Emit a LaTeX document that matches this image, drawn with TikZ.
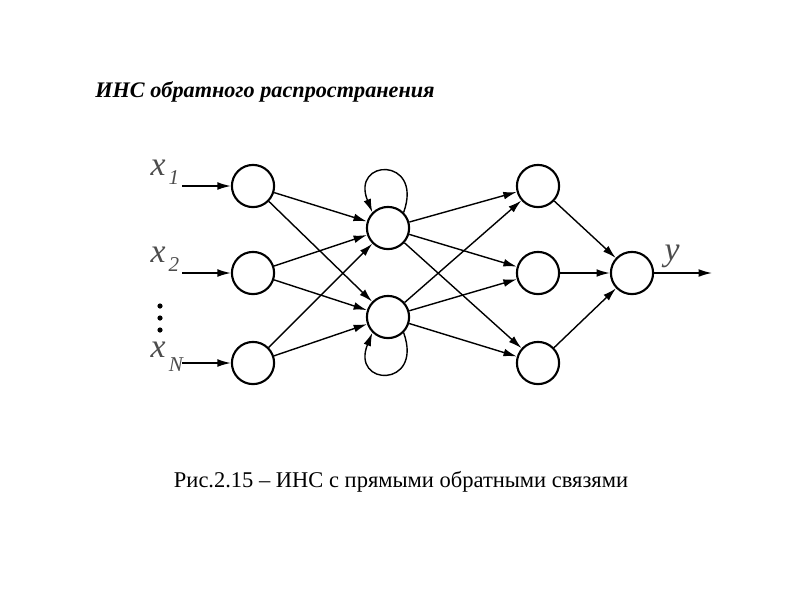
\documentclass[tikz,border=0pt]{standalone}
\usepackage{fontspec}
\setmainfont{Liberation Serif}
\usetikzlibrary{arrows.meta}

\begin{document}
\begin{tikzpicture}[x=0.025cm,y=-0.025cm,>={Latex[length=9.5pt,width=5.5pt]},line width=1pt]
\tikzset{neuron/.style={draw,circle,minimum size=30pt,inner sep=0pt,line width=1.5pt},
  lbl/.style={text=black!70,font=\fontsize{24}{24}\selectfont\itshape},
  sub/.style={text=black!70,font=\fontsize{15}{15}\selectfont\itshape}}
\useasboundingbox (0,0) rectangle (800,600);
\node[anchor=west,font=\fontsize{15.8}{18}\selectfont\bfseries\itshape] (title) at (90,92) {ИНС обратного распространения};
\node[font=\fontsize{16}{18}\selectfont] (caption) at (401,482) {Рис.2.15 – ИНС с прямыми обратными связями};
% layers
\node[neuron] (a1) at (253,186) {};
\node[neuron] (a2) at (253,273) {};
\node[neuron] (a3) at (253,363) {};
\node[neuron] (b1) at (388,228) {};
\node[neuron] (b2) at (388,317) {};
\node[neuron] (c1) at (538,186) {};
\node[neuron] (c2) at (538,273) {};
\node[neuron] (c3) at (538,363) {};
\node[neuron] (out) at (632,273) {};
% inputs
\coordinate (i1) at (182,186);
\coordinate (i2) at (182,273);
\coordinate (i3) at (182,363);
\coordinate (o) at (712,273);
\node[lbl] (x1) at (158,168) {x};
\node[sub] at (174,178) {1};
\node[lbl] (x2) at (158,255) {x};
\node[sub] at (174,265) {2};
\node[lbl] (xn) at (158,350) {x};
\node[sub] at (176,365) {N};
\node[lbl] (y) at (672,256) {y};
\foreach \y in {306,318,330} {\fill (160,\y) circle (2.6);}
\foreach \i in {1,2,3} {\draw[->] (i\i) -- (a\i);}
\foreach \i in {1,2,3} {\foreach \j in {1,2} {\draw[->] (a\i) -- (b\j);}}
\foreach \i in {1,2} {\foreach \j in {1,2,3} {\draw[->] (b\i) -- (c\j);}}
\foreach \j in {1,2,3} {\draw[->] (c\j) -- (out);}
\draw[->] (out) -- (o);
% self loops
\draw[->] (b1.45) .. controls +(20,-56) and +(-22,-54) .. (b1.135);
\draw[->] (b2.-45) .. controls +(20,56) and +(-22,54) .. (b2.-135);
\end{tikzpicture}
\end{document}
